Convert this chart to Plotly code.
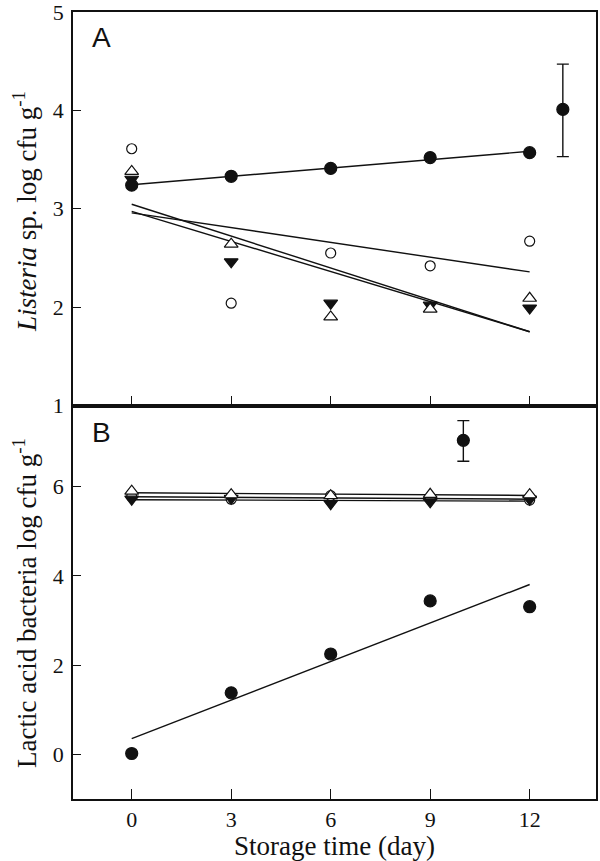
import numpy as np
import plotly.graph_objects as go

days = [0, 3, 6, 9, 12]

# Panel A: Listeria sp. (log cfu/g)
A_filled_circle = [3.24, 3.33, 3.41, 3.52, 3.57]
A_open_circle = [3.61, 2.04, 2.55, 2.42, 2.67]
A_open_triangle = [3.38, 2.64, 1.90, 1.98, 2.09]
A_filled_triangle = [3.30, 2.46, 2.04, 2.02, 1.99]
A_ref_x = [13]
A_ref_y = [4.01]
A_ref_err_plus = [0.46]
A_ref_err_minus = [0.48]

# Panel B: Lactic acid bacteria (log cfu/g)
B_filled_circle = [0.02, 1.38, 2.25, 3.44, 3.31]
B_open_circle = [5.78, 5.72, 5.80, 5.74, 5.70]
B_open_triangle = [5.90, 5.82, 5.80, 5.83, 5.82]
B_filled_triangle = [5.72, 5.74, 5.62, 5.66, 5.72]
B_ref_x = [10]
B_ref_y = [7.04]
B_ref_err_plus = [0.44]
B_ref_err_minus = [0.47]

x_ticks = [0, 3, 6, 9, 12]

BLACK = "#111111"
SERIF = "Liberation Serif, Times New Roman, serif"
SANS = "Liberation Sans, Arial, sans-serif"

fig = go.Figure()


def fit_line(y, xa, ya):
    slope, icpt = np.polyfit(days, y, 1)
    xs = [days[0], days[-1]]
    ys = [icpt + slope * v for v in xs]
    fig.add_trace(go.Scatter(x=xs, y=ys, mode="lines", xaxis=xa, yaxis=ya,
                             line=dict(color=BLACK, width=1.4), showlegend=False,
                             hoverinfo="skip"))


def markers(y, xa, ya, symbol, size, fill, xs=None, err=None):
    kw = {}
    if err is not None:
        kw["error_y"] = dict(type="data", symmetric=False, array=err[0], arrayminus=err[1],
                             color=BLACK, thickness=1.4, width=6)
    fig.add_trace(go.Scatter(x=xs if xs is not None else days, y=y, mode="markers",
                             xaxis=xa, yaxis=ya, showlegend=False,
                             marker=dict(symbol=symbol, size=size, color=fill,
                                         line=dict(color=BLACK, width=1.2)), **kw))


for xa, ya, fc, oc, ot, ft in [
    ("x", "y", A_filled_circle, A_open_circle, A_open_triangle, A_filled_triangle),
    ("x2", "y2", B_filled_circle, B_open_circle, B_open_triangle, B_filled_triangle),
]:
    for s in (fc, oc, ot, ft):
        fit_line(s, xa, ya)
    markers(oc, xa, ya, "circle", 10, "white")
    markers(ft, xa, ya, "triangle-down", 12, BLACK)
    markers(ot, xa, ya, "triangle-up", 12, "white")
    markers(fc, xa, ya, "circle", 12, BLACK)

markers(A_ref_y, "x", "y", "circle", 12, BLACK, xs=A_ref_x, err=(A_ref_err_plus, A_ref_err_minus))
markers(B_ref_y, "x2", "y2", "circle", 12, BLACK, xs=B_ref_x, err=(B_ref_err_plus, B_ref_err_minus))

axis_common = dict(showline=True, linecolor=BLACK, linewidth=1.5, mirror=True,
                   ticks="inside", tickcolor=BLACK, tickwidth=1.3, showgrid=False,
                   zeroline=False, automargin=False, ticklabeloverflow="allow",
                   tickfont=dict(family=SERIF, size=22, color=BLACK))

title_font = dict(family=SERIF, size=27, color=BLACK)

fig.update_layout(
    width=600, height=861,
    margin=dict(l=73, r=4, t=12, b=62),
    paper_bgcolor="white", plot_bgcolor="white",
    xaxis=dict(**axis_common, range=[-1.77, 14.0], tickvals=x_ticks, showticklabels=False,
               ticklen=10, anchor="y", domain=[0, 1]),
    yaxis=dict(**axis_common, range=[1, 5], tickvals=[1, 2, 3, 4, 5], ticklen=8,
               domain=[0.5, 1], anchor="x", ticklabelstandoff=3),
    xaxis2=dict(**axis_common, range=[-1.77, 14.0], tickvals=x_ticks, ticklen=10,
                anchor="y2", domain=[0, 1], ticklabelstandoff=0),
    yaxis2=dict(**axis_common, range=[-1.0, 7.82], tickvals=[0, 2, 4, 6], ticklen=8,
                domain=[0, 0.5], anchor="x2", ticklabelstandoff=3),
    annotations=[
        dict(text="A", xref="paper", yref="paper", x=0.055, y=0.967, showarrow=False,
             xanchor="center", yanchor="middle", font=dict(family=SANS, size=28, color=BLACK)),
        dict(text="B", xref="paper", yref="paper", x=0.055, y=0.466, showarrow=False,
             xanchor="center", yanchor="middle", font=dict(family=SANS, size=28, color=BLACK)),
        dict(text="<i>Listeria</i> sp. log cfu g<sup>-1</sup>", xref="paper", yref="paper",
             x=-0.092, y=0.747, showarrow=False, textangle=-90,
             xanchor="center", yanchor="middle", font=title_font),
        dict(text="Lactic acid bacteria log cfu g<sup>-1</sup>", xref="paper", yref="paper",
             x=-0.092, y=0.249, showarrow=False, textangle=-90,
             xanchor="center", yanchor="middle", font=title_font),
        dict(text="Storage time (day)", xref="paper", yref="paper",
             x=0.5, y=-0.0597, showarrow=False,
             xanchor="center", yanchor="middle", font=title_font),
    ],
)

fig.write_html("out.html", config={"displayModeBar": False},
               post_script="document.body.style.margin='0';")
